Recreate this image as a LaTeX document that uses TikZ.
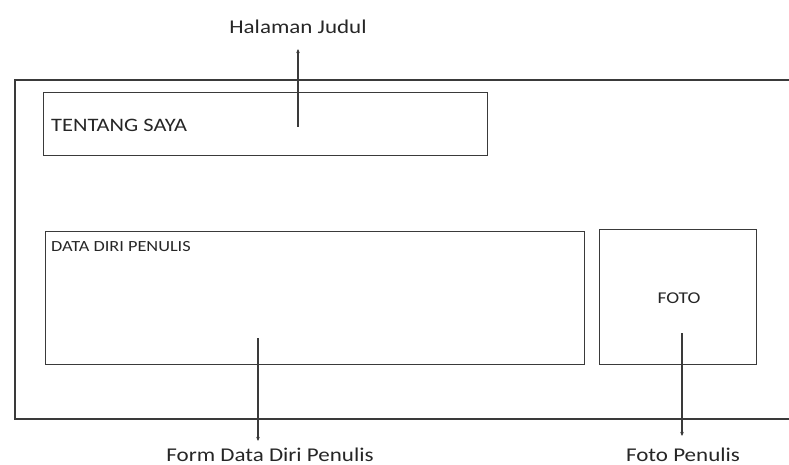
\documentclass[tikz,border=0pt]{standalone}
\usepackage{fontspec}
\setmainfont{Carlito}[FakeStretch=1.18]
\usetikzlibrary{arrows.meta}
\definecolor{ink}{HTML}{3A3A3A}
\definecolor{letter}{HTML}{262626}
\tikzset{
  frame/.style={draw=ink, line width=1.4pt},
  panel/.style={draw=ink, line width=1.4pt, anchor=north west, inner sep=0pt},
  caption/.style={text=letter, font=\fontsize{19.5}{22}\selectfont, inner sep=0pt},
  boxtext/.style={text=letter, inner sep=0pt, anchor=west},
  pointer/.style={draw=ink, line width=1.2pt, -{Stealth[length=4pt,width=3.5pt]}}
}
\begin{document}
\begin{tikzpicture}[x=1pt,y=-1pt]
  \useasboundingbox (0,0) rectangle (789,465);
  % page frame, running off the right edge
  \draw[frame] (795,80) -- (15,80) -- (15,419) -- (795,419);
  % content panels
  \node[panel, minimum width=444pt, minimum height=63pt] (tentang) at (43,92) {};
  \node[panel, minimum width=539pt, minimum height=133pt] (data) at (45,231) {};
  \node[panel, minimum width=157pt, minimum height=135pt] (foto) at (599,229) {};
  % panel titles
  \node[boxtext, font=\fontsize{19}{22}\selectfont] (tentangtxt) at (51,125) {TENTANG SAYA};
  \node[boxtext, font=\fontsize{15.5}{18}\selectfont] (datatxt) at (51,247) {DATA DIRI PENULIS};
  \node[text=letter, inner sep=0pt, font=\fontsize{16.5}{18}\selectfont] (fototxt) at (679,298) {FOTO};
  % captions
  \node[caption] (judul) at (298,27) {Halaman Judul};
  \node[caption] (form) at (270,455) {Form Data Diri Penulis};
  \node[caption] (fotopen) at (683,455) {Foto Penulis};
  % pointer lines
  \coordinate (p1) at (298,127);
  \coordinate (q1) at (298,49);
  \coordinate (p2) at (258,338);
  \coordinate (q2) at (258,441);
  \coordinate (p3) at (682,333);
  \coordinate (q3) at (682,436);
  \draw[pointer] (p1) -- (q1);
  \draw[pointer] (p2) -- (q2);
  \draw[pointer] (p3) -- (q3);
\end{tikzpicture}
\end{document}
